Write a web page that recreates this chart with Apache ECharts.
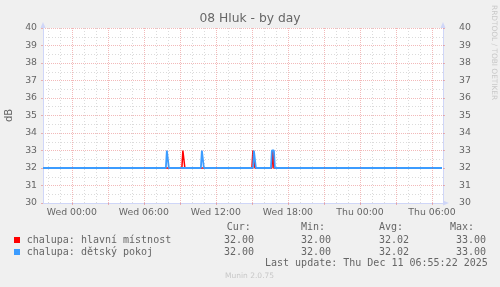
<!DOCTYPE html>
<html><head><meta charset="utf-8">
<script src="https://cdn.jsdelivr.net/npm/echarts@6/dist/echarts.min.js"></script>
<style>html,body{margin:0;padding:0;background:#f0f0f0;}#c{width:500px;height:287px;}</style>
</head><body><div id="c"></div>
<script>
// ---- data (x in minutes since Wed 00:00) ----
const titleText = '08 Hluk - by day';
const yAxisName = 'dB';
const xMin = -144, xMax = 1855;
const xLabelMinutes = [0, 360, 720, 1080, 1440, 1800];
const xLabelTexts = ['Wed 00:00', 'Wed 06:00', 'Wed 12:00', 'Wed 18:00', 'Thu 00:00', 'Thu 06:00'];
const xMajorGrid = [0, 180, 360, 540, 720, 900, 1080, 1260, 1440, 1620, 1800];
const xMinorGrid = [-120, -60, 60, 120, 240, 300, 420, 480, 600, 660, 780, 840, 960, 1020, 1140, 1200, 1320, 1380, 1500, 1560, 1680, 1740];
const seriesNames = ['chalupa: hlavní místnost', 'chalupa: dětský pokoj'];
const seriesColors = ['#ff0000', '#3c9cff'];
const hlavniMinutes = [-144, 550, 555, 560, 565, 900, 905, 910, 915, 1000, 1005, 1010, 1850];
const hlavniValues  = [32,   32,  33,  33,  32,  32,  33,  33,  32,  32,   33,   32,   32];
const detskyMinutes = [-144, 470, 475, 480, 485, 645, 650, 655, 660, 905, 910, 915, 920, 995, 1000, 1010, 1015, 1850];
const detskyValues  = [32,   32,  33,  33,  32,  32,  33,  33,  32,  32,  33,  33,  32,  32,  33,   33,   32,   32];
const statHeaders = ['Cur:', 'Min:', 'Avg:', 'Max:'];
const hlavniStats = ['32.00', '32.00', '32.02', '33.00'];
const detskyStats = ['32.00', '32.00', '32.02', '33.00'];
const lastUpdate = 'Last update: Thu Dec 11 06:55:22 2025';
const versionText = 'Munin 2.0.75';
const watermark = 'RRDTOOL / TOBI OETIKER';

// ---- styles ----
const FONT = '#666666';
const AXISC = '#CFD6F8';
const MAJ = 'rgba(222,79,79,0.4)';
const MIN = 'rgba(143,143,143,0.32)';
const SANS = '"DejaVu Sans"';
const MONO = '"DejaVu Sans Mono"';

const zip = (xs, ys) => xs.map((x, i) => [x, ys[i]]);

const chart = echarts.init(document.getElementById('c'), null, {renderer: 'canvas'});

const headerX = [226.7, 301, 379, 450];
const valueX = [224, 301, 379, 456];
const graphics = [];
graphics.push({type: 'text', x: 250, y: 19, style: {text: titleText, font: '12.3px ' + SANS, fill: FONT, align: 'center', verticalAlign: 'middle'}});
graphics.push({type: 'text', x: 494, y: 5, rotation: -Math.PI / 2, style: {text: watermark, font: '7.4px ' + SANS, fill: '#c8c8c8', align: 'left', verticalAlign: 'middle'}});
statHeaders.forEach((h, i) => graphics.push({type: 'text', x: headerX[i], y: 227.5, style: {text: h, font: '10px ' + MONO, fill: FONT, align: 'left', verticalAlign: 'middle'}}));
[hlavniStats, detskyStats].forEach((row, r) => {
  const yy = 240 + r * 12;
  graphics.push({type: 'rect', shape: {x: 14, y: yy - 3, width: 6, height: 6}, style: {fill: seriesColors[r]}});
  graphics.push({type: 'text', x: 26.7, y: yy, style: {text: seriesNames[r], font: '10px ' + MONO, fill: FONT, align: 'left', verticalAlign: 'middle'}});
  row.forEach((v, i) => graphics.push({type: 'text', x: valueX[i], y: yy, style: {text: v, font: '10px ' + MONO, fill: FONT, align: 'left', verticalAlign: 'middle'}}));
});
graphics.push({type: 'text', x: 265, y: 263.5, style: {text: lastUpdate, font: '10px ' + MONO, fill: FONT, align: 'left', verticalAlign: 'middle'}});
graphics.push({type: 'text', x: 225, y: 276, style: {text: versionText, font: '7.5px ' + SANS, fill: '#c8c8c8', align: 'left', verticalAlign: 'middle'}});

const yCommon = {
  type: 'value', min: 30, max: 40, interval: 1,
  axisLine: {show: true, onZero: false, lineStyle: {color: AXISC, width: 1}, symbol: ['none', 'triangle'], symbolSize: [5, 6], symbolOffset: [0, 3]},
  axisTick: {show: true, length: 2, lineStyle: {color: MAJ}},
  axisLabel: {fontSize: 9.33, color: FONT, fontFamily: 'DejaVu Sans'}
};

chart.setOption({
  animation: false,
  backgroundColor: '#f0f0f0',
  grid: {left: 43, right: 57, top: 28, bottom: 84, show: true, backgroundColor: '#ffffff', borderWidth: 0, containLabel: false, outerBoundsMode: 'none'},
  xAxis: {
    type: 'value', min: xMin, max: xMax,
    axisLine: {show: true, onZero: false, lineStyle: {color: AXISC, width: 1}, symbol: ['none', 'triangle'], symbolSize: [5, 6], symbolOffset: [0, 3]},
    axisTick: {show: true, customValues: xMajorGrid, length: 2, lineStyle: {color: MAJ}},
    axisLabel: {customValues: xLabelMinutes, formatter: v => xLabelTexts[xLabelMinutes.indexOf(v)] || '', fontSize: 9.33, color: FONT, fontFamily: 'DejaVu Sans', margin: 5},
    splitLine: {show: false}
  },
  yAxis: [
    Object.assign({}, yCommon, {
      position: 'left', name: yAxisName, nameLocation: 'middle', nameGap: 29, nameRotate: 90,
      nameTextStyle: {fontSize: 10, color: FONT, fontFamily: 'DejaVu Sans'},
      axisLabel: Object.assign({}, yCommon.axisLabel, {margin: 6}),
      splitLine: {show: true, lineStyle: {color: MAJ, type: [1, 1], width: 1}},
      minorTick: {show: false, splitNumber: 2},
      minorSplitLine: {show: true, lineStyle: {color: MIN, type: [1, 2], width: 1}}
    }),
    Object.assign({}, yCommon, {
      position: 'right',
      axisLabel: Object.assign({}, yCommon.axisLabel, {margin: 16}),
      splitLine: {show: false}
    })
  ],
  series: [
    {
      type: 'line', name: 'grid', data: [[xMin, 30]], showSymbol: false, silent: true, z: 1,
      lineStyle: {width: 0, opacity: 0},
      markLine: {
        silent: true, symbol: ['none', 'none'], label: {show: false}, animation: false,
        data: xMinorGrid.map(v => ({xAxis: v, lineStyle: {color: MIN, type: [1, 2], width: 1}}))
          .concat(xMajorGrid.map(v => ({xAxis: v, lineStyle: {color: MAJ, type: [1, 1], width: 1}})))
      }
    },
    {type: 'line', name: seriesNames[0], data: zip(hlavniMinutes, hlavniValues), showSymbol: false, z: 3,
      lineStyle: {color: seriesColors[0], width: 1.5}, itemStyle: {color: seriesColors[0]}},
    {type: 'line', name: seriesNames[1], data: zip(detskyMinutes, detskyValues), showSymbol: false, z: 4,
      lineStyle: {color: seriesColors[1], width: 1.8}, itemStyle: {color: seriesColors[1]}}
  ],
  graphic: graphics
});
</script></body></html>
